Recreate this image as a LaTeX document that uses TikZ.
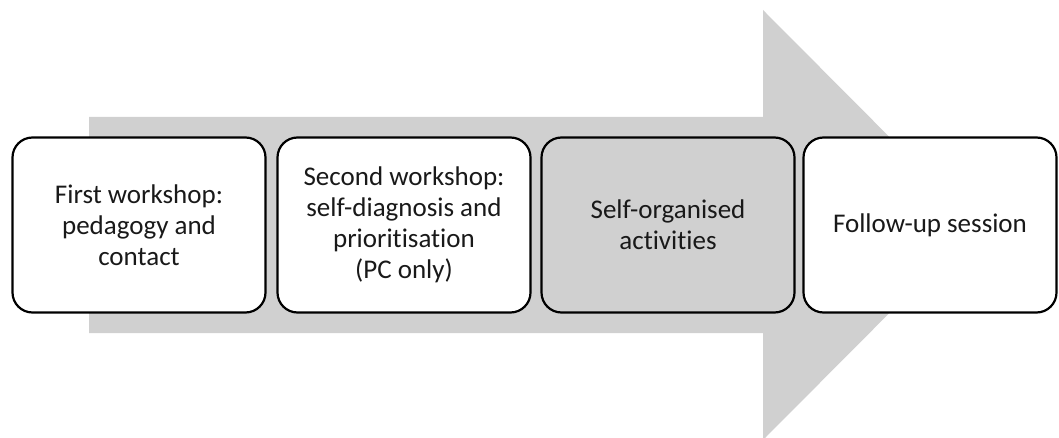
\documentclass[tikz,border=0pt]{standalone}
\usepackage{fontspec}
\setmainfont[Ligatures=NoCommon]{Carlito}
\definecolor{arrowgrey}{HTML}{D0D0D0}
\begin{document}
\begin{tikzpicture}[x=1pt,y=-1pt,
  stage/.style={draw=black, line width=2.2pt, rounded corners=20pt, fill=white,
    minimum width=253pt, minimum height=175pt, align=center, inner sep=4pt,
    font=\fontsize{27}{31}\selectfont, text=black!90},
  greystage/.style={stage, fill=arrowgrey}]
\useasboundingbox (0,0) rectangle (1059,438);
\fill[arrowgrey] (89,117) -- (763,117) -- (763,10) -- (977,225) -- (763,440) -- (763,333) -- (89,333) -- cycle;
\node[stage] (s1) at (139,225) {First workshop:\\pedagogy and\\contact};
\node[stage] (s2) at (404,225) {Second workshop:\\self-diagnosis and\\prioritisation\\(PC only)};
\node[greystage] (s3) at (668,225) {Self-organised\\activities};
\node[stage] (s4) at (930,225) {Follow-up session};
\end{tikzpicture}
\end{document}
